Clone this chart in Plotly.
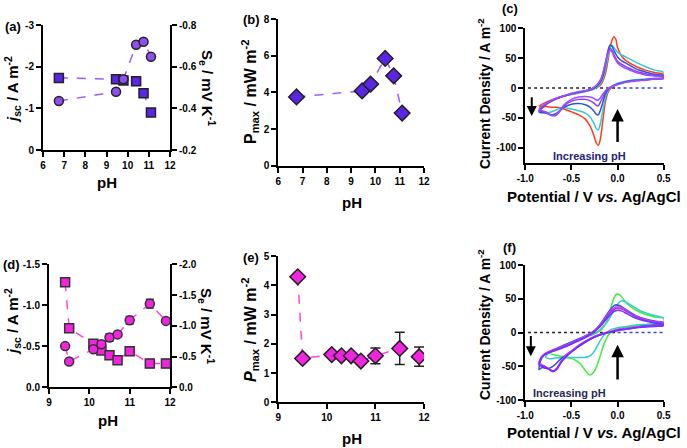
import plotly.graph_objects as go

W, H = 687, 448
FONT = "Liberation Sans, Arial, sans-serif"


def fx(p):
    return p / W


def fy(p):
    return 1 - p / H


# ---------------- data: panels (a), (b) ----------------
PH_AB = [6.75, 9.45, 9.8, 10.4, 10.75, 11.1]
JSC_A = [-1.73, -1.70, -1.67, -1.65, -1.36, -0.90]
SE_A = [-0.435, -0.48, -0.54, -0.705, -0.72, -0.648]
PMAX_B = [3.75, 4.08, 4.45, 5.85, 4.90, 2.87]

# ---------------- data: panels (d), (e) ----------------
PH_DE = [9.4, 9.5, 10.1, 10.3, 10.5, 10.7, 11.0, 11.5, 11.9]
JSC_D = [-1.28, -0.72, -0.53, -0.45, -0.39, -0.33, -0.44, -0.29, -0.29]
JSC_D_ERR = [0, 0, 0, 0, 0, 0, 0, 0.05, 0.05]
SE_D = [-0.67, -0.42, -0.62, -0.70, -0.81, -0.86, -1.09, -1.36, -1.08]
SE_D_ERR = [0, 0, 0, 0, 0.06, 0, 0.06, 0.07, 0]
PMAX_E = [4.29, 1.50, 1.63, 1.59, 1.59, 1.41, 1.59, 1.84, 1.56]
PMAX_E_ERR = [0, 0, 0, 0, 0, 0, 0.27, 0.55, 0.33]

# ---------------- tick labels ----------------
TICKS_A_LEFT = [0, -1, -2, -3]
TICKS_A_RIGHT = [-0.2, -0.4, -0.6, -0.8]
TICKS_D_LEFT = [0.0, -0.5, -1.0, -1.5]
TICKS_D_RIGHT = [0.0, -0.5, -1.0, -1.5, -2.0]
TICKS_CV_X = [-1.0, -0.5, 0.0, 0.5]
TICKS_C_Y = [-100, -50, 0, 50, 100]
TICKS_F_Y = [-100, -50, 0, 50, 100]

# ---------------- data: panel (c) CVs ----------------
C_E_FWD = [-0.85, -0.75, -0.65, -0.55, -0.45, -0.35, -0.28, -0.22, -0.18, -0.15, -0.12, -0.10,
           -0.08, -0.06, -0.04, -0.02, 0.00, 0.05, 0.10, 0.20, 0.30, 0.40, 0.50]
C_E_REV = [0.50, 0.40, 0.30, 0.20, 0.10, 0.05, 0.00, -0.05, -0.10, -0.13, -0.16, -0.19, -0.21,
           -0.23, -0.26, -0.30, -0.35, -0.42, -0.50, -0.58, -0.63, -0.67, -0.72, -0.78, -0.85]
C_RED_FWD = [-30, -22, -16, -12, -9, -6, -3, 1, 6, 15, 32, 50, 68, 80, 86, 82, 68, 52, 45, 36, 30, 26, 23]
C_RED_REV = [16, 15, 14, 13, 11, 9, 7, 3, -6, -22, -55, -88, -96, -92, -78, -63, -52, -45, -40, -35,
             -33, -32, -32, -31, -30]
C_TEAL_FWD = [-38, -24, -17, -12, -9, -6, -3, 2, 9, 20, 40, 56, 68, 71, 68, 64, 60, 55, 51, 43, 36, 30, 26]
C_TEAL_REV = [17, 16, 15, 14, 12, 10, 8, 4, -4, -15, -38, -62, -70, -68, -58, -48, -42, -38, -35, -33,
              -34, -37, -40, -41, -38]
C_BLUE_FWD = [-40, -25, -17, -12, -8, -5, -2, 4, 12, 25, 50, 65, 72, 70, 63, 57, 52, 45, 41, 32, 27, 23, 21]
C_BLUE_REV = [17, 16, 14, 13, 11, 9, 7, 4, -2, -9, -24, -39, -45, -44, -38, -32, -28, -26, -27, -32,
              -38, -43, -45, -42, -40]
C_PURP_FWD = [-38, -24, -17, -12, -8, -5, -1, 6, 15, 30, 50, 62, 66, 63, 56, 50, 45, 39, 35, 28, 24, 21, 19]
C_PURP_REV = [17, 15, 14, 12, 10, 8, 6, 3, -1, -6, -15, -25, -30, -29, -25, -21, -19, -19, -22, -30,
              -40, -46, -45, -40, -38]
C_VIOL_FWD = [-35, -23, -16, -11, -7, -4, -1, 6, 15, 30, 50, 60, 63, 60, 53, 47, 42, 36, 32, 26, 22, 20, 18]
C_VIOL_REV = [16, 15, 13, 12, 10, 8, 6, 3, 0, -4, -10, -17, -20, -20, -17, -15, -14, -15, -19, -28,
              -38, -45, -46, -40, -35]

# ---------------- data: panel (f) CVs ----------------
F_GREEN_E_FWD = [-0.75, -0.65, -0.55, -0.45, -0.35, -0.28, -0.22, -0.17, -0.13, -0.10, -0.07, -0.04,
                 -0.01, 0.02, 0.06, 0.10, 0.20, 0.30, 0.40, 0.50]
F_GREEN_FWD = [-30, -23, -17, -12, -7, -3, 0, 5, 13, 24, 38, 51, 57, 56, 50, 43, 33, 27, 23, 21]
F_GREEN_E_REV = [0.50, 0.40, 0.30, 0.20, 0.10, 0.00, -0.05, -0.10, -0.15, -0.20, -0.25, -0.30, -0.34,
                 -0.40, -0.47, -0.55, -0.65, -0.75]
F_GREEN_REV = [13, 12, 11, 10, 8, 5, 2, -4, -18, -40, -57, -63, -58, -47, -40, -37, -34, -30]

F_TEAL_E_FWD = [-0.78, -0.70, -0.60, -0.50, -0.40, -0.32, -0.25, -0.19, -0.14, -0.10, -0.06, -0.02,
                0.02, 0.05, 0.09, 0.15, 0.25, 0.35, 0.50]
F_TEAL_FWD = [-36, -27, -21, -16, -11, -6, -2, 4, 11, 18, 28, 38, 45, 47, 45, 40, 32, 27, 21]
F_TEAL_E_REV = [0.50, 0.40, 0.30, 0.20, 0.10, 0.00, -0.06, -0.12, -0.17, -0.22, -0.27, -0.32, -0.38,
                -0.45, -0.52, -0.60, -0.68, -0.74, -0.78]
F_TEAL_REV = [14, 13, 12, 11, 9, 7, 5, 0, -8, -20, -31, -36, -37, -37, -37, -37, -38, -39, -36]

F_BLUE_E_FWD = [-0.85, -0.83, -0.78, -0.70, -0.60, -0.50, -0.40, -0.32, -0.25, -0.19, -0.14, -0.10,
                -0.06, -0.02, 0.02, 0.06, 0.10, 0.20, 0.30, 0.40, 0.50]
F_BLUE_FWD = [-55, -40, -31, -26, -20, -14, -8, -3, 3, 12, 22, 30, 37, 41, 40, 37, 33, 25, 20, 17, 15]
F_BLUE_E_REV = [0.50, 0.40, 0.30, 0.20, 0.10, 0.00, -0.08, -0.16, -0.24, -0.32, -0.40, -0.48, -0.56,
                -0.63, -0.69, -0.74, -0.78, -0.82, -0.85]
F_BLUE_REV = [12, 11, 10, 8, 6, 4, 1, -2, -6, -12, -19, -26, -33, -41, -49, -53, -53, -52, -55]

F_MPV_E_FWD = [-0.85, -0.82, -0.76, -0.68, -0.58, -0.48, -0.40, -0.33, -0.27, -0.21, -0.16, -0.12,
               -0.08, -0.04, 0.00, 0.04, 0.10, 0.20, 0.30, 0.40, 0.50]
F_MPV_E_REV = [0.50, 0.40, 0.30, 0.20, 0.10, 0.00, -0.10, -0.20, -0.30, -0.40, -0.48, -0.55, -0.61,
               -0.66, -0.70, -0.75, -0.80, -0.85]
F_MAG_FWD = [-45, -35, -29, -25, -20, -14, -9, -4, 1, 8, 16, 24, 31, 36, 38, 37, 32, 24, 19, 16, 14]
F_MAG_REV = [11, 10, 9, 8, 6, 4, 1, -3, -9, -17, -25, -33, -42, -53, -57, -53, -49, -45]
F_PURP_FWD = [-47, -36, -30, -26, -21, -15, -10, -5, 0, 7, 15, 22, 29, 34, 36, 35, 31, 23, 18, 15, 13]
F_PURP_REV = [11, 10, 9, 7, 5, 3, 0, -4, -10, -18, -26, -34, -43, -54, -58, -54, -50, -47]
F_VIOL_FWD = [-48, -37, -31, -27, -22, -16, -11, -6, -1, 6, 13, 20, 26, 31, 33, 32, 28, 21, 17, 14, 12]
F_VIOL_REV = [10, 9, 8, 7, 5, 3, 0, -4, -10, -18, -27, -35, -44, -55, -57, -54, -51, -48]

PURPLE_FILL = "#5b25e8"
PURPLE_CIRC = "#8f4ff0"
PURPLE_LINE = "#9a5cff"
MAG_FILL = "#f224e0"
MAG_LINE = "#ff44e6"

fig = go.Figure()

# ---------- panel (a) ----------
fig.add_trace(go.Scatter(x=PH_AB, y=JSC_A, mode="lines+markers", xaxis="x", yaxis="y",
                         line=dict(color=PURPLE_LINE, width=1.5, dash="dash"),
                         marker=dict(symbol="square", size=9, color=PURPLE_FILL,
                                     line=dict(color="#222", width=1.5))))
fig.add_trace(go.Scatter(x=PH_AB, y=SE_A, mode="lines+markers", xaxis="x", yaxis="y2",
                         line=dict(color=PURPLE_LINE, width=1.5, dash="dash"),
                         marker=dict(symbol="circle", size=9, color=PURPLE_CIRC,
                                     line=dict(color="#222", width=1.5))))
# ---------- panel (b) ----------
fig.add_trace(go.Scatter(x=PH_AB, y=PMAX_B, mode="lines+markers", xaxis="x2", yaxis="y3",
                         line=dict(color=PURPLE_LINE, width=1.5, dash="dash"),
                         marker=dict(symbol="diamond", size=12, color=PURPLE_FILL,
                                     line=dict(color="#222", width=1.5))))

# ---------- panel (c) ----------
c_curves = [
    (C_RED_FWD, C_RED_REV, "#ff3b1f"),
    (C_TEAL_FWD, C_TEAL_REV, "#33cccc"),
    (C_BLUE_FWD, C_BLUE_REV, "#2f4fe0"),
    (C_PURP_FWD, C_PURP_REV, "#8a3cf0"),
    (C_VIOL_FWD, C_VIOL_REV, "#a04dff"),
]
for fwd, rev, col in c_curves:
    fig.add_trace(go.Scatter(x=C_E_FWD + C_E_REV, y=fwd + rev, mode="lines", xaxis="x3", yaxis="y4",
                             line=dict(color=col, width=1.5, shape="spline", smoothing=0.8)))

# ---------- panel (d) ----------
fig.add_trace(go.Scatter(x=PH_DE, y=JSC_D, mode="lines+markers", xaxis="x4", yaxis="y5",
                         line=dict(color=MAG_LINE, width=1.5, dash="dash"),
                         error_y=dict(type="data", array=JSC_D_ERR, color="#333", thickness=1.5, width=4),
                         marker=dict(symbol="square", size=9, color=MAG_FILL,
                                     line=dict(color="#333", width=1.5))))
fig.add_trace(go.Scatter(x=PH_DE, y=SE_D, mode="lines+markers", xaxis="x4", yaxis="y6",
                         line=dict(color=MAG_LINE, width=1.5, dash="dash"),
                         error_y=dict(type="data", array=SE_D_ERR, color="#333", thickness=1.5, width=4),
                         marker=dict(symbol="circle", size=9, color=MAG_FILL,
                                     line=dict(color="#333", width=1.5))))
# ---------- panel (e) ----------
fig.add_trace(go.Scatter(x=PH_DE, y=PMAX_E, mode="lines+markers", xaxis="x5", yaxis="y7",
                         line=dict(color=MAG_LINE, width=1.5, dash="dash"),
                         error_y=dict(type="data", array=PMAX_E_ERR, color="#222", thickness=1.5, width=5),
                         marker=dict(symbol="diamond", size=12, color=MAG_FILL,
                                     line=dict(color="#222", width=1.5))))

# ---------- panel (f) ----------
f_curves = [
    (F_GREEN_E_FWD + F_GREEN_E_REV, F_GREEN_FWD + F_GREEN_REV, "#3fee3f"),
    (F_TEAL_E_FWD + F_TEAL_E_REV, F_TEAL_FWD + F_TEAL_REV, "#33cccc"),
    (F_BLUE_E_FWD + F_BLUE_E_REV, F_BLUE_FWD + F_BLUE_REV, "#2f4fe0"),
    (F_MPV_E_FWD + F_MPV_E_REV, F_MAG_FWD + F_MAG_REV, "#e040e0"),
    (F_MPV_E_FWD + F_MPV_E_REV, F_PURP_FWD + F_PURP_REV, "#9b30ff"),
    (F_MPV_E_FWD + F_MPV_E_REV, F_VIOL_FWD + F_VIOL_REV, "#7a2cff"),
]
for xs, ys, col in f_curves:
    fig.add_trace(go.Scatter(x=xs, y=ys, mode="lines", xaxis="x6", yaxis="y8",
                             line=dict(color=col, width=1.5, shape="spline", smoothing=0.8)))

tickfont = dict(family=FONT, size=10, color="black", weight="bold")
base = dict(showline=True, linecolor="black", linewidth=2, ticks="outside", ticklen=5, tickwidth=2,
            tickcolor="black", showgrid=False, zeroline=False, tickfont=tickfont, fixedrange=True,
            automargin=False)


def fmt(v, nd):
    return f"{v:.{nd}f}"


def ticks(vals, nd):
    return dict(tickmode="array", tickvals=vals, ticktext=[fmt(v, nd) for v in vals])


def dom_x(a, b):
    return [fx(a), fx(b)]


def dom_y(top, bottom):
    return [fy(bottom), fy(top)]


fig.update_layout(
    template="none",
    width=W, height=H, margin=dict(l=0, r=0, t=0, b=0, autoexpand=False),
    paper_bgcolor="white", plot_bgcolor="rgba(0,0,0,0)", showlegend=False,
    font=dict(family=FONT, color="black"),
    xaxis=dict(base, domain=dom_x(43, 170), range=[6, 12], dtick=1, anchor="y"),
    yaxis=dict(base, **ticks(TICKS_A_LEFT, 0), domain=dom_y(25, 150), range=[0, -3], anchor="x"),
    yaxis2=dict(base, **ticks(TICKS_A_RIGHT, 1), range=[-0.2, -0.8], anchor="x", overlaying="y",
                side="right"),
    xaxis2=dict(base, domain=dom_x(278.3, 424), range=[6, 12], dtick=1, anchor="y3"),
    yaxis3=dict(base, domain=dom_y(19, 165.7), range=[0, 8], dtick=2, anchor="x2"),
    xaxis3=dict(base, **ticks(TICKS_CV_X, 1), domain=dom_x(525.3, 663.7), range=[-1, 0.5], anchor="y4"),
    yaxis4=dict(base, **ticks(TICKS_C_Y, 0), domain=dom_y(28.3, 163.3), range=[-126, 100], anchor="x3"),
    xaxis4=dict(base, domain=dom_x(49, 170), range=[9, 12], dtick=1, anchor="y5"),
    yaxis5=dict(base, **ticks(TICKS_D_LEFT, 1), domain=dom_y(264.3, 387.3), range=[0, -1.5], anchor="x4"),
    yaxis6=dict(base, **ticks(TICKS_D_RIGHT, 1), range=[0, -2], anchor="x4", overlaying="y5",
                side="right"),
    xaxis5=dict(base, domain=dom_x(278.3, 424), range=[9, 12], dtick=1, anchor="y7"),
    yaxis7=dict(base, domain=dom_y(256, 402.3), range=[0, 5], dtick=1, anchor="x5"),
    xaxis6=dict(base, **ticks(TICKS_CV_X, 1), domain=dom_x(525.3, 663.7), range=[-1, 0.5], anchor="y8"),
    yaxis8=dict(base, **ticks(TICKS_F_Y, 0), domain=dom_y(265, 400), range=[-100, 100], anchor="x6"),
)

# reference zero lines in CV panels
for xr, yr in (("x3", "y4"), ("x6", "y8")):
    fig.add_shape(type="line", xref=xr, yref=yr, x0=-0.97, x1=0.0, y0=0, y1=0,
                  line=dict(color="#222", width=1.5, dash="dot"), layer="below")
    fig.add_shape(type="line", xref=xr, yref=yr, x0=0.0, x1=0.5, y0=0, y1=0,
                  line=dict(color="#3344dd", width=1.5, dash="dot"), layer="below")

ann = []


def text(x, y, t, size, angle=0, color="black"):
    ann.append(dict(x=fx(x), y=fy(y), xref="paper", yref="paper", text=t, showarrow=False,
                    textangle=angle, xanchor="center", yanchor="middle",
                    font=dict(family=FONT, size=size, color=color, weight="bold")))


# panel labels
text(13, 26, "(a)", 13)
text(251, 19, "(b)", 13)
text(510, 8, "(c)", 13)
text(11, 264, "(d)", 13)
text(251, 257, "(e)", 13)
text(510, 247, "(f)", 13)

# axis titles
text(107, 182, "pH", 15)
text(352, 202, "pH", 15)
text(108, 420, "pH", 15)
text(352, 438, "pH", 15)
text(12, 90, "<i>j</i><sub>sc</sub> / A m<sup>-2</sup>", 15, -90)
text(207, 88, "S<sub>e</sub> / mV K<sup>-1</sup>", 15, 90)
text(12, 322, "<i>j</i><sub>sc</sub> / A m<sup>-2</sup>", 15, -90)
text(207, 326, "S<sub>e</sub> / mV K<sup>-1</sup>", 15, 90)
text(250, 92, "P<sub>max</sub> / mW m<sup>-2</sup>", 16, -90)
text(250, 330, "<i>P</i><sub>max</sub> / mW m<sup>-2</sup>", 16, -90)
text(484, 94, "Current Density / A m<sup>-2</sup>", 14, -90)
text(484, 325, "Current Density / A m<sup>-2</sup>", 14, -90)
text(594, 197, "Potential / V <i>vs.</i> Ag/AgCl", 15)
text(594, 432, "Potential / V <i>vs.</i> Ag/AgCl", 15)

# arrows and labels inside CV panels
for xr, yr, down, up, lab_x, lab_y, lab_col in (
        ("x3", "y4", (-0.93, -13, -47), (0.0, -93, -35), -0.30, -113, "#23237a"),
        ("x6", "y8", (-0.94, -3, -35), (0.0, -72, -18), -0.52, -89, "#2a2a55")):
    ann.append(dict(xref=xr, yref=yr, axref=xr, ayref=yr, x=down[0], y=down[2], ax=down[0], ay=down[1],
                    showarrow=True, arrowhead=2, arrowsize=1, arrowwidth=2, arrowcolor="black", text=""))
    ann.append(dict(xref=xr, yref=yr, axref=xr, ayref=yr, x=up[0], y=up[2], ax=up[0], ay=up[1],
                    showarrow=True, arrowhead=2, arrowsize=1, arrowwidth=2.5, arrowcolor="black", text=""))
    ann.append(dict(xref=xr, yref=yr, x=lab_x, y=lab_y, text="Increasing pH", showarrow=False,
                    xanchor="center", yanchor="middle",
                    font=dict(family=FONT, size=11, color=lab_col, weight="bold")))

fig.update_layout(annotations=ann)
fig.write_html("out.html", config={"displayModeBar": False, "staticPlot": True},
               post_script="document.body.style.margin='0';document.body.style.padding='0';"
                           "document.body.style.overflow='hidden';")
